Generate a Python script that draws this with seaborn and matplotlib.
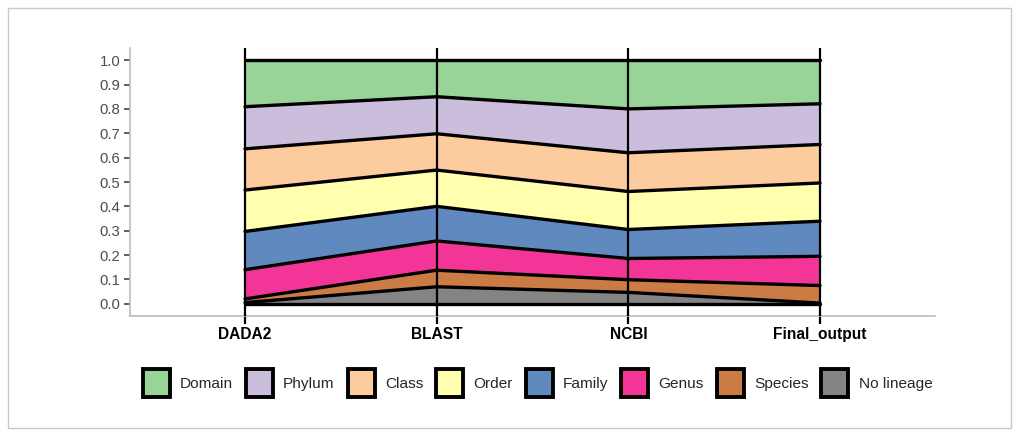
import numpy as np
import pandas as pd
import matplotlib
matplotlib.use("Agg")
import matplotlib.pyplot as plt
from matplotlib.patches import Patch, Rectangle
import seaborn as sns

# Pipelines compared along the x axis
pipelines = ["DADA2", "BLAST", "NCBI", "Final_output"]

# Proportion of ASVs resolved to each taxonomic rank (per pipeline)
domain     = [0.191, 0.150, 0.200, 0.179]
phylum     = [0.173, 0.152, 0.180, 0.167]
class_     = [0.169, 0.149, 0.159, 0.158]
order      = [0.170, 0.149, 0.156, 0.157]
family     = [0.157, 0.142, 0.119, 0.144]
genus      = [0.120, 0.120, 0.087, 0.120]
species    = [0.015, 0.068, 0.052, 0.072]
no_lineage = [0.005, 0.070, 0.047, 0.003]

ranks = ["Domain", "Phylum", "Class", "Order", "Family", "Genus", "Species", "No lineage"]
values = [domain, phylum, class_, order, family, genus, species, no_lineage]

sns.set_theme(style="white")
plt.rcParams["font.family"] = ["Liberation Sans", "DejaVu Sans"]

palette = sns.color_palette("Accent", 8)
fills = [(*c, 0.8) for c in palette]

fig = plt.figure(figsize=(10.19, 4.32), dpi=100)
ax = fig.add_axes([130 / 1019, 1 - 316 / 432, 805 / 1019, 268 / 432])

x = np.arange(1, len(pipelines) + 1)

# Stack from the bottom: No lineage first, Domain on top
stack_order = list(range(len(ranks)))[::-1]
base = np.zeros(len(pipelines))
rows = []
rows.extend({"x": xi, "y": 0.0, "level": 0} for xi in x)
for lvl, i in enumerate(stack_order, start=1):
    top = base + np.array(values[i])
    ax.fill_between(x, base, top, color=fills[i], linewidth=0, zorder=1)
    rows.extend({"x": xi, "y": yi, "level": lvl} for xi, yi in zip(x, top))
    base = top

bounds = pd.DataFrame(rows)
sns.lineplot(data=bounds, x="x", y="y", units="level", estimator=None,
             color="black", linewidth=2.4, ax=ax, zorder=3, legend=False)

for xi in x:
    ax.axvline(xi, color="black", linewidth=1.6, zorder=4)

ax.set_xlim(0.4, 4.6)
ax.set_ylim(-0.05, 1.05)
ax.set_xticks(x)
ax.set_xticklabels(pipelines, fontsize=11.2, fontweight="bold", color="black")
ax.set_yticks(np.round(np.arange(0, 1.01, 0.1), 1))
ax.set_yticklabels([f"{v:.1f}" for v in np.arange(0, 1.01, 0.1)], fontsize=10.7, color="#4d4d4d")
ax.set_xlabel("")
ax.set_ylabel("")
ax.tick_params(axis="y", length=4, width=1.1, color="#333333", pad=3, left=True)
ax.tick_params(axis="x", length=6, width=1.6, color="black", pad=2, bottom=True)

for side in ["top", "right"]:
    ax.spines[side].set_visible(False)
for side in ["left", "bottom"]:
    ax.spines[side].set_color("#b8b8b8")
    ax.spines[side].set_linewidth(1.1)

handles = [Patch(facecolor=fills[i], edgecolor="black", linewidth=2.8)
           for i in range(len(ranks))]
fig.legend(handles, ranks, loc="center", bbox_to_anchor=(0.5275, 1 - 383 / 432),
           ncol=8, frameon=False, fontsize=11.1, handlelength=1.75, handleheight=2.35,
           handletextpad=0.66, columnspacing=0.84)

fig.add_artist(Rectangle((8 / 1019, 4 / 432), 1003 / 1019, 420 / 432,
                         transform=fig.transFigure, fill=False,
                         edgecolor="#c8c8c8", linewidth=1.0))

fig.savefig("out.png", dpi=100)
